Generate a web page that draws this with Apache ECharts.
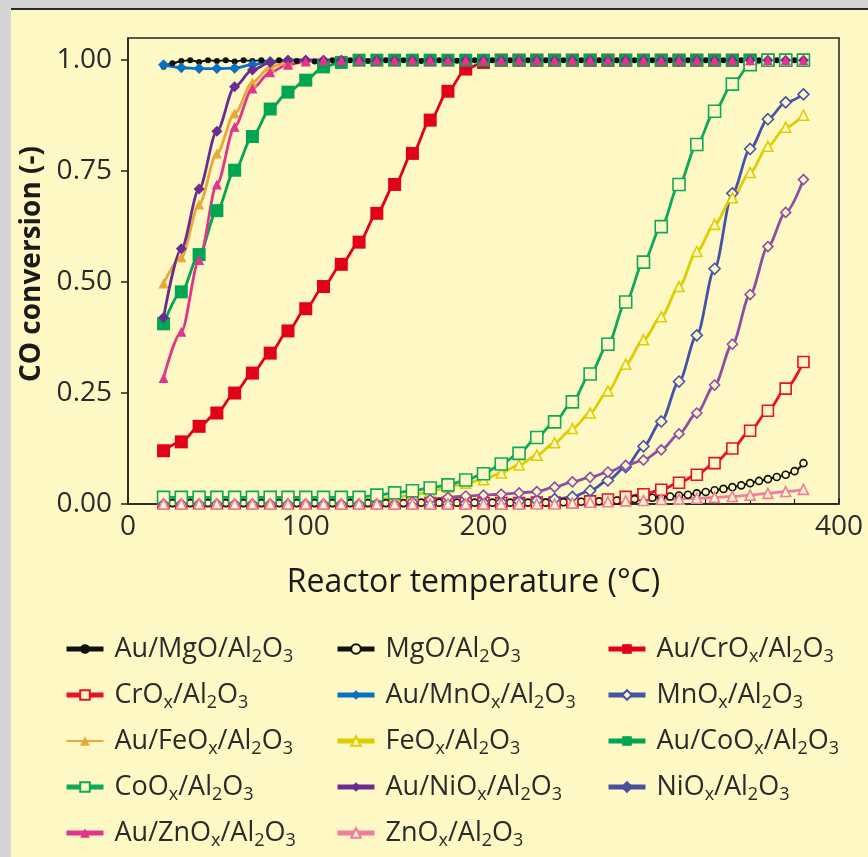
<!DOCTYPE html>
<html>
<head>
<meta charset="utf-8">
<title>CO conversion vs reactor temperature</title>
<script src="https://cdn.jsdelivr.net/npm/echarts@6/dist/echarts.min.js"></script>
<style>
    html,body{margin:0;padding:0;background:#fdf8c4;}
    #main{position:absolute;left:0;top:0;width:868px;height:857px;}
    .gray{position:absolute;background:#d5d5d5;}
</style>
</head>
<body>
<div id="main"></div>
<div class="gray" style="left:0;top:0;width:11px;height:857px;"></div>
<div class="gray" style="left:0;top:0;width:868px;height:8px;"></div>
<div style="position:absolute;left:11px;top:8px;width:857px;height:2px;background:#2a2a2a;"></div>
<script type="text/javascript">
// temperatures (°C)
var T10 = [20,30,40,50,60,70,80,90,100,110,120,130,140,150,160,170,180,190,200,210,
           220,230,240,250,260,270,280,290,300,310,320,330,340,350,360,370,380];
var T5 = [20,25,30,35,40,45,50,55,60,65,70,75,80,85,90,95,100,105,110,115,
          120,125,130,135,140,145,150,155,160,165,170,175,180,185,190,195,200,205,210,215,
          220,225,230,235,240,245,250,255,260,265,270,275,280,285,290,295,300,305,310,315,
          320,325,330,335,340,345,350,355,360,365,370,375,380];

// CO conversion (-)
var auMgO = [0.985,0.993,0.998,1.000,0.996,1.000,0.998,1.000,0.997,1.000,
             0.998,1.000,0.997,1.000,1.000,0.998,1.000,0.997,1.000,1.000,
             0.998,1.000,1.000,0.998,1.000,1.000,0.999,1.000,1.000,0.998,
             1.000,1.000,1.000,0.999,1.000,1.000,1.000,1.000,0.999,1.000,
             1.000,1.000,1.000,1.000,1.000,1.000,1.000,1.000,1.000,1.000,
             1.000,1.000,1.000,1.000,1.000,1.000,1.000,1.000,1.000,1.000,
             1.000,1.000,1.000,1.000,1.000,1.000,1.000,1.000,1.000,1.000,
             1.000,1.000,1.000];
var mgO = [0.001,0.002,0.001,0.002,0.001,0.002,0.001,0.002,0.001,0.002,
           0.001,0.002,0.001,0.002,0.001,0.002,0.001,0.002,0.002,0.002,
           0.002,0.002,0.002,0.002,0.002,0.002,0.002,0.002,0.002,0.003,
           0.002,0.003,0.002,0.003,0.003,0.003,0.003,0.003,0.003,0.003,
           0.003,0.003,0.003,0.003,0.003,0.004,0.004,0.005,0.005,0.006,
           0.006,0.008,0.009,0.011,0.013,0.014,0.016,0.017,0.019,0.021,
           0.024,0.027,0.031,0.034,0.038,0.042,0.047,0.052,0.056,0.061,
           0.066,0.074,0.092];
var auCrOx = [0.12,0.14,0.175,0.205,0.25,0.295,0.34,0.39,0.44,0.49,
              0.54,0.59,0.655,0.72,0.79,0.865,0.93,0.98,0.995,1,
              1,1,1,1,1,1,1,1,1,1,
              1,1,1,1,1,1,1];
var crOx = [0.002,0.002,0.002,0.002,0.002,0.002,0.002,0.002,0.002,0.002,
            0.002,0.002,0.002,0.002,0.002,0.002,0.002,0.002,0.002,0.002,
            0.002,0.003,0.003,0.004,0.006,0.010,0.016,0.022,0.032,0.048,
            0.066,0.092,0.125,0.165,0.21,0.26,0.32];
var auMnOx = [0.99,0.983,0.981,0.981,0.982,0.99,0.997,1,1,1,
              1,1,1,1,1,1,1,1,1,1,
              1,1,1,1,1,1,1,1,1,1,
              1,1,1,1,1,1,1];
var mnOx = [0.001,0.001,0.001,0.001,0.001,0.001,0.001,0.001,0.001,0.001,
            0.001,0.001,0.001,0.001,0.001,0.001,0.001,0.001,0.003,0.004,
            0.006,0.008,0.011,0.016,0.03,0.053,0.083,0.13,0.186,0.276,
            0.38,0.53,0.70,0.80,0.867,0.905,0.923];
var auFeOx = [0.497,0.556,0.675,0.79,0.88,0.95,0.985,0.995,1,1,
              1,1,1,1,1,1,1,1,1,1,
              1,1,1,1,1,1,1,1,1,1,
              1,1,1,1,1,1,1];
var feOx = [0.01,0.01,0.01,0.01,0.01,0.01,0.01,0.01,0.01,0.01,
            0.01,0.01,0.012,0.015,0.02,0.028,0.038,0.047,0.055,0.07,
            0.088,0.11,0.138,0.17,0.205,0.255,0.315,0.37,0.422,0.49,
            0.569,0.63,0.69,0.747,0.806,0.849,0.876];
var auCoOx = [0.406,0.478,0.562,0.661,0.752,0.828,0.89,0.928,0.955,0.985,
              0.995,1,1,1,1,1,1,1,1,1,
              1,1,1,1,1,1,1,1,1,1,
              1,1,1,1,1,1,1];
var coOx = [0.015,0.015,0.015,0.015,0.015,0.015,0.015,0.015,0.015,0.015,
            0.015,0.015,0.02,0.025,0.03,0.036,0.043,0.054,0.068,0.09,
            0.114,0.15,0.185,0.23,0.293,0.36,0.455,0.545,0.625,0.72,
            0.81,0.885,0.946,0.99,1,1,1];
var auNiOx = [0.42,0.575,0.71,0.84,0.94,0.978,0.995,1,1,1,
              1,1,1,1,1,1,1,1,1,1,
              1,1,1,1,1,1,1,1,1,1,
              1,1,1,1,1,1,1];
var niOx = [0,0,0,0,0,0,0,0,0,0,
            0,0,0,0,0.005,0.01,0.015,0.018,0.02,0.022,
            0.025,0.028,0.038,0.05,0.06,0.072,0.087,0.099,0.122,0.158,
            0.205,0.268,0.36,0.472,0.58,0.657,0.731];
var auZnOx = [0.284,0.388,0.55,0.72,0.85,0.936,0.973,0.99,0.997,1,
              1,1,1,1,1,1,1,1,1,1,
              1,1,1,1,1,1,1,1,1,1,
              1,1,1,1,1,1,1];
var znOx = [0,0,0,0,0,0,0,0,0,0,
            0,0,0,0,0,0,0,0,0,0,
            0,0,0,0.002,0.004,0.005,0.007,0.008,0.01,0.011,
            0.013,0.015,0.017,0.02,0.024,0.028,0.033];

var yTicks = [0, 0.25, 0.5, 0.75, 1];

var legendCols = [
    ['Au/MgO/Al2O3','CrOx/Al2O3','Au/FeOx/Al2O3','CoOx/Al2O3','Au/ZnOx/Al2O3'],
    ['MgO/Al2O3','Au/MnOx/Al2O3','FeOx/Al2O3','Au/NiOx/Al2O3','ZnOx/Al2O3'],
    ['Au/CrOx/Al2O3','MnOx/Al2O3','Au/CoOx/Al2O3','NiOx/Al2O3']
];

var BG = '#fdf8c4';
var FONT = "'Open Sans', 'Noto Sans', sans-serif";
var TXT = '#2b2b2b';

function pairs(ts, vs){
    return ts.map(function(t, i){ return [t, vs[i]]; });
}

// open = hollow marker filled with the background colour
function mk(name, ts, vs, color, symbol, size, open, width){
    return {
        name: name,
        type: 'line',
        data: pairs(ts, vs),
        symbol: symbol,
        symbolSize: size,
        smooth: 0.3,
        smoothMonotone: 'x',
        lineStyle: {color: color, width: width || 2.8},
        itemStyle: open
            ? {color: BG, borderColor: color, borderWidth: 1.6}
            : {color: color, borderColor: color, borderWidth: 0},
        emphasis: {disabled: true}
    };
}

function subName(n){
    return n.replace(/Ox/g, 'O{s|x}').replace('Al2O3', 'Al{s|2}O{s|3}');
}

var myChart = echarts.init(document.getElementById('main'), null, {renderer: 'canvas'});

var legendLefts = [64, 335, 606];
var legends = legendCols.map(function(col, k){
    return {
        orient: 'vertical',
        left: legendLefts[k],
        top: 632,
        height: 260,
        padding: 0,
        itemGap: 12,
        itemWidth: 37,
        itemHeight: 12,
        selectedMode: false,
        lineStyle: {width: 5},
        data: col.map(function(n){
            if(n == 'NiOx/Al2O3'){
                return {name: n, itemStyle: {color: '#4651a0', borderColor: '#4651a0'}, lineStyle: {color: '#4651a0', width: 5}};
            }
            if(n == 'Au/FeOx/Al2O3'){
                return {name: n, lineStyle: {width: 2}};
            }
            return {name: n};
        }),
        formatter: subName,
        textStyle: {
            fontFamily: FONT, fontSize: 27, color: TXT, lineHeight: 34,
            padding: [0, 0, 0, 6],
            rich: {
                s: {fontFamily: FONT, fontSize: 18, color: TXT, lineHeight: 18, verticalAlign: 'bottom'}
            }
        }
    };
});

option = {
    backgroundColor: BG,
    animation: false,
    textStyle: {fontFamily: FONT},
    grid: {
        left: 128, right: 29, top: 38, bottom: 353,
        show: true, borderColor: '#222', borderWidth: 1.5,
        backgroundColor: 'transparent'
    },
    legend: legends,
    xAxis: {
        type: 'value',
        min: 0, max: 400, interval: 100,
        name: 'Reactor temperature (°C)',
        nameLocation: 'middle',
        nameGap: 63,
        nameTextStyle: {fontFamily: FONT, fontSize: 32, fontWeight: 500, color: '#1a1a1a', padding: [0, 20, 0, 0]},
        axisLine: {lineStyle: {color: '#222', width: 1.5}},
        axisTick: {inside: true, length: 6, lineStyle: {color: '#222', width: 1.5}},
        minorTick: {show: true, splitNumber: 4, length: 5, lineStyle: {color: '#222', width: 1.2}},
        splitLine: {show: false},
        axisLabel: {fontFamily: FONT, fontSize: 28, color: TXT, margin: 9}
    },
    yAxis: {
        type: 'value',
        min: 0, max: 1.05,
        name: 'CO conversion (-)',
        nameLocation: 'middle',
        nameGap: 74,
        nameTextStyle: {fontFamily: FONT, fontSize: 28, fontWeight: 'bold', color: '#1a1a1a', padding: [0, 0, 0, 14]},
        axisLine: {show: true, lineStyle: {color: '#222', width: 1.5}},
        axisTick: {show: true, inside: false, length: 7, customValues: yTicks, lineStyle: {color: '#222', width: 1.5}},
        splitLine: {show: false},
        axisLabel: {
            fontFamily: FONT, fontSize: 28, color: TXT, margin: 16,
            customValues: yTicks,
            formatter: function(v){ return v.toFixed(2); }
        }
    },
    series: [
        mk('Au/MgO/Al2O3', T5, auMgO, '#111111', 'circle', 6, false, 2),
        mk('MgO/Al2O3', T5, mgO, '#111111', 'circle', 7, true, 2),
        mk('Au/CrOx/Al2O3', T10, auCrOx, '#e2001a', 'rect', 13, false),
        mk('CrOx/Al2O3', T10, crOx, '#e8102a', 'rect', 11, true),
        mk('Au/MnOx/Al2O3', T10, auMnOx, '#0a70c2', 'diamond', 11, false),
        mk('MnOx/Al2O3', T10, mnOx, '#4554a8', 'diamond', 11, true),
        mk('Au/FeOx/Al2O3', T10, auFeOx, '#e9a73c', 'triangle', 10, false),
        mk('FeOx/Al2O3', T10, feOx, '#e0cd00', 'triangle', 10, true),
        mk('Au/CoOx/Al2O3', T10, auCoOx, '#00a651', 'rect', 13, false),
        mk('CoOx/Al2O3', T10, coOx, '#10a85a', 'rect', 12, true),
        mk('Au/NiOx/Al2O3', T10, auNiOx, '#6a2c8e', 'diamond', 11, false),
        mk('NiOx/Al2O3', T10, niOx, '#8f4ea3', 'diamond', 10, true),
        mk('Au/ZnOx/Al2O3', T10, auZnOx, '#e0358a', 'triangle', 10, false),
        mk('ZnOx/Al2O3', T10, znOx, '#f07c9e', 'triangle', 10, true)
    ]
};

myChart.setOption(option);
</script>
</body>
</html>
